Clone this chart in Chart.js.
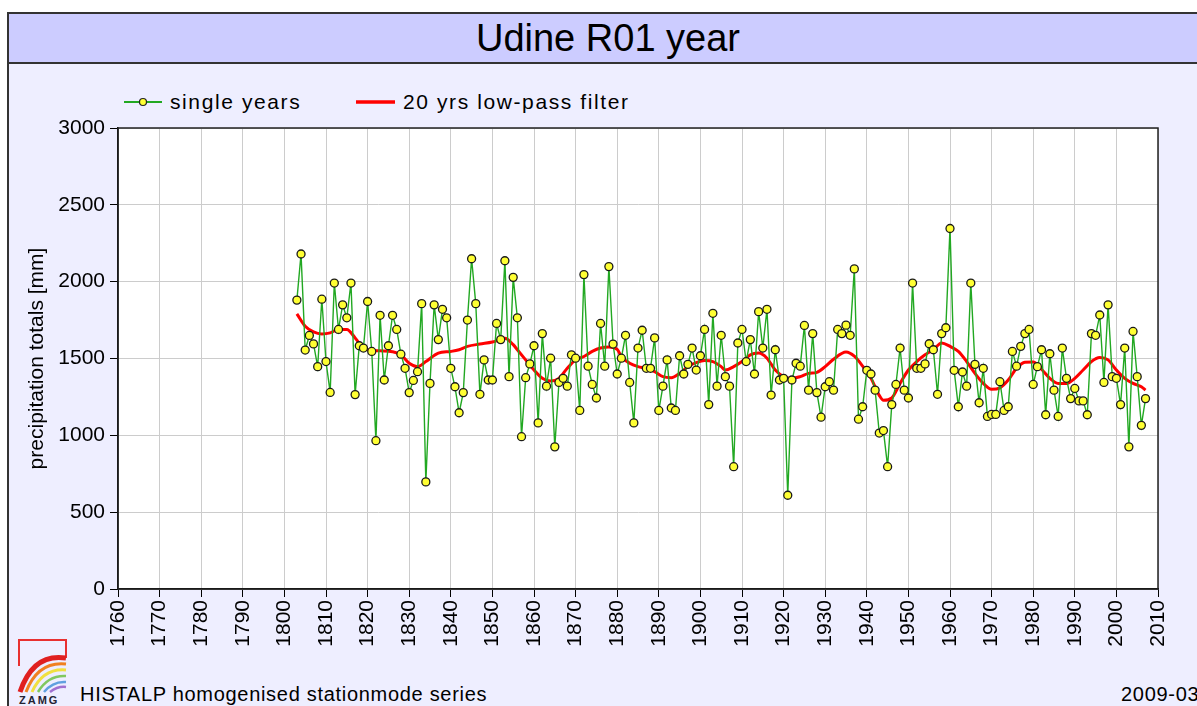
<!DOCTYPE html>
<html><head><meta charset="utf-8">
<script src="https://cdn.jsdelivr.net/npm/chart.js@4/dist/chart.umd.min.js"></script>
<style>
html,body{margin:0;padding:0}
body{width:1197px;height:706px;overflow:hidden;background:#fff;font-family:"Liberation Sans",Arial,sans-serif;position:relative}
#frame{position:absolute;left:7px;top:12px;width:1204px;height:710px;border:2px solid #333;background:#EEEEFF;box-sizing:border-box}
#titlebar{position:absolute;left:9px;top:14px;width:1200px;height:48px;background:#CCCCFF;border-bottom:2px solid #333}
#title{position:absolute;left:7px;width:1202px;top:14px;height:48px;line-height:48px;text-align:center;font-size:38px;color:#000}
.leg{position:absolute;top:90px;height:24px;line-height:24px;font-size:21px;letter-spacing:1.6px;color:#000;white-space:nowrap}
#footer{position:absolute;left:80px;top:683px;font-size:20px;letter-spacing:0.7px;color:#000;white-space:nowrap}
#date{position:absolute;left:1121px;top:683px;font-size:20px;letter-spacing:0.7px;color:#000;white-space:nowrap}
#logo{position:absolute;left:15px;top:636px}
canvas{position:absolute;left:0;top:0}
</style></head>
<body>
<div id="frame"></div>
<div id="titlebar"></div>
<div id="title">Udine R01 year</div>
<svg style="position:absolute;left:124px;top:96px" width="40" height="12"><line x1="0" y1="6" x2="38" y2="6" stroke="#22A822" stroke-width="2"/><circle cx="19" cy="6" r="3.5" fill="#FFFF33" stroke="#222" stroke-width="1.2"/></svg>
<div class="leg" style="left:170px">single years</div>
<svg style="position:absolute;left:356px;top:96px" width="40" height="12"><line x1="0" y1="6" x2="39" y2="6" stroke="#FF0000" stroke-width="3.5"/></svg>
<div class="leg" style="left:403px">20 yrs low-pass filter</div>
<svg id="logo" width="56" height="70">
<path d="M4 30 V4 H51 V22" fill="none" stroke="#E83030" stroke-width="2"/>
<path d="M5 56 Q18 17 51 22" fill="none" stroke="#E02020" stroke-width="5"/>
<path d="M11 56 Q23 25 51 28" fill="none" stroke="#F08020" stroke-width="3"/>
<path d="M17 56 Q28 32 51 34" fill="none" stroke="#F0E040" stroke-width="3"/>
<path d="M23 56 Q33 39 51 40" fill="none" stroke="#80C860" stroke-width="2.5"/>
<path d="M29 56 Q38 45 51 46" fill="none" stroke="#60A0E0" stroke-width="2.5"/>
<path d="M35 56 Q43 50 51 51" fill="none" stroke="#A070D0" stroke-width="2.5"/>
<text x="4" y="68" font-family="Liberation Sans,Arial,sans-serif" font-size="11" font-weight="bold" letter-spacing="2" fill="#223">ZAMG</text>
</svg>
<div id="footer">HISTALP homogenised stationmode series</div>
<div id="date">2009-03</div>
<canvas id="c" width="1197" height="706"></canvas>
<script>
const years = [1803,1804,1805,1806,1807,1808,1809,1810,1811,1812,1813,1814,1815,1816,1817,1818,1819,1820,
1821,1822,1823,1824,1825,1826,1827,1828,1829,1830,1831,1832,1833,1834,1835,1836,1837,1838,1839,1840,
1841,1842,1843,1844,1845,1846,1847,1848,1849,1850,1851,1852,1853,1854,1855,1856,1857,1858,1859,1860,
1861,1862,1863,1864,1865,1866,1867,1868,1869,1870,1871,1872,1873,1874,1875,1876,1877,1878,1879,1880,
1881,1882,1883,1884,1885,1886,1887,1888,1889,1890,1891,1892,1893,1894,1895,1896,1897,1898,1899,1900,
1901,1902,1903,1904,1905,1906,1907,1908,1909,1910,1911,1912,1913,1914,1915,1916,1917,1918,1919,1920,
1921,1922,1923,1924,1925,1926,1927,1928,1929,1930,1931,1932,1933,1934,1935,1936,1937,1938,1939,1940,
1941,1942,1943,1944,1945,1946,1947,1948,1949,1950,1951,1952,1953,1954,1955,1956,1957,1958,1959,1960,
1961,1962,1963,1964,1965,1966,1967,1968,1969,1970,1971,1972,1973,1974,1975,1976,1977,1978,1979,1980,
1981,1982,1983,1984,1985,1986,1987,1988,1989,1990,1991,1992,1993,1994,1995,1996,1997,1998,1999,2000,
2001,2002,2003,2004,2005,2006,2007];
const precipitation = [1880,2180,1555,1650,1595,1447,1886,1480,1279,1991,1689,1849,1765,1991,1265,1583,1568,1871,
1546,965,1781,1360,1583,1781,1689,1528,1436,1278,1357,1414,1857,697,1338,1849,1623,1820,1765,1436,
1316,1147,1278,1750,2149,1857,1267,1491,1360,1360,1728,1623,2136,1382,2028,1765,991,1375,1465,1583,
1081,1662,1320,1502,925,1344,1371,1320,1524,1502,1162,2046,1450,1331,1243,1728,1450,2098,1594,1399,
1502,1651,1344,1081,1568,1684,1436,1436,1634,1162,1320,1491,1178,1162,1518,1399,1462,1568,1425,1518,
1689,1200,1794,1320,1651,1382,1320,796,1601,1689,1480,1623,1399,1805,1568,1820,1262,1557,1360,1371,
610,1360,1469,1450,1715,1294,1662,1278,1118,1316,1349,1294,1689,1662,1717,1651,2083,1105,1186,1423,
1399,1294,1015,1031,796,1200,1331,1568,1294,1243,1991,1436,1436,1465,1596,1557,1267,1662,1700,2346,
1423,1186,1412,1320,1991,1462,1212,1436,1123,1136,1136,1349,1162,1186,1546,1450,1579,1662,1689,1331,
1447,1557,1134,1531,1294,1123,1568,1371,1239,1305,1224,1224,1134,1662,1651,1783,1344,1849,1382,1371,
1200,1568,925,1676,1382,1065,1239];
const filterYears = [1803,1805,1807,1809,1811,1813,1815,1817,1819,1821,1823,1826,1828,1830,1832,1834,1837,1840,
1842,1844,1847,1850,1852,1853,1855,1856,1858,1860,1862,1864,1866,1868,1870,1872,1874,1876,1878,1880,
1881,1883,1885,1887,1889,1891,1893,1895,1897,1899,1901,1903,1905,1906,1908,1910,1912,1914,1916,1918,
1920,1922,1924,1926,1928,1930,1932,1935,1937,1939,1941,1943,1944,1946,1948,1950,1952,1954,1956,1958,
1960,1962,1964,1966,1968,1970,1972,1974,1976,1978,1980,1982,1984,1986,1988,1990,1992,1994,1996,1998,
2000,2002,2004,2006,2007];
const filterValues = [1790,1710,1673,1660,1667,1689,1689,1634,1568,1553,1550,1544,1524,1469,1447,1480,1535,1546,
1557,1579,1594,1607,1623,1632,1590,1557,1491,1425,1371,1353,1371,1436,1491,1513,1546,1568,1575,1560,
1513,1469,1447,1436,1414,1382,1375,1403,1447,1473,1487,1480,1447,1425,1447,1480,1524,1535,1502,1425,
1382,1371,1382,1403,1410,1447,1495,1542,1515,1450,1371,1260,1228,1243,1338,1425,1480,1524,1557,1601,
1579,1546,1480,1403,1338,1300,1309,1360,1436,1476,1478,1430,1371,1338,1338,1371,1425,1480,1506,1491,
1425,1371,1338,1316,1294];
const xTickMin = 1760, xTickMax = 2010, xStep = 10;
const yTickMin = 0, yTickMax = 3000, yStep = 500;

const frameBox = {
  id: 'frameBox',
  beforeDraw(chart){
    const {ctx, chartArea:a} = chart;
    ctx.save(); ctx.fillStyle = '#FFFFFF';
    ctx.fillRect(a.left, a.top, a.right - a.left, a.bottom - a.top);
    ctx.restore();
  },
  afterDraw(chart){
    const {ctx, chartArea:a} = chart;
    ctx.save(); ctx.strokeStyle = '#222'; ctx.lineWidth = 1.5;
    ctx.strokeRect(a.left, a.top, a.right - a.left, a.bottom - a.top);
    ctx.restore();
  }
};
const tickFont = {family:'"Liberation Sans", Arial, sans-serif', size:21};
new Chart(document.getElementById('c'), {
  type: 'line',
  data: { datasets: [
    { label:'single years', data: years.map((x,i)=>({x, y: precipitation[i]})),
      borderColor:'#22A822', borderWidth:1.4, tension:0,
      pointRadius:4, pointBackgroundColor:'#FFFF33', pointBorderColor:'#1A1A1A', pointBorderWidth:1.3 },
    { label:'20 yrs low-pass filter', data: filterYears.map((x,i)=>({x, y: filterValues[i]})),
      borderColor:'#FF0000', borderWidth:3, pointRadius:0, cubicInterpolationMode:'monotone' }
  ]},
  options: {
    responsive:false, animation:false, devicePixelRatio:1,
    layout:{ padding:{ left:0, right:39, top:128, bottom:0 } },
    plugins:{ legend:{display:false}, tooltip:{enabled:false} },
    scales:{
      x:{ type:'linear', min:xTickMin, max:xTickMax,
        ticks:{ stepSize:xStep, autoSkip:false, maxRotation:90, minRotation:90, color:'#000', font:tickFont, padding:3,
          callback:(v)=>String(v) },
        grid:{ color:'#CCCCCC', lineWidth:1, tickColor:'#000', tickLength:8 },
        border:{ color:'#000', width:1.5 },
        afterFit:(s)=>{ s.height = 117; } },
      y:{ min:yTickMin, max:yTickMax,
        ticks:{ stepSize:yStep, color:'#000', font:tickFont, padding:5, callback:(v)=>String(v) },
        grid:{ color:'#CCCCCC', lineWidth:1, tickColor:'#000', tickLength:8 },
        border:{ color:'#000', width:1.5 },
        title:{ display:true, text:'precipitation totals [mm]', color:'#000', font:tickFont, padding:{top:25,bottom:0} },
        afterFit:(s)=>{ s.width = 118; } }
    }
  },
  plugins:[frameBox]
});
</script>
</body></html>
